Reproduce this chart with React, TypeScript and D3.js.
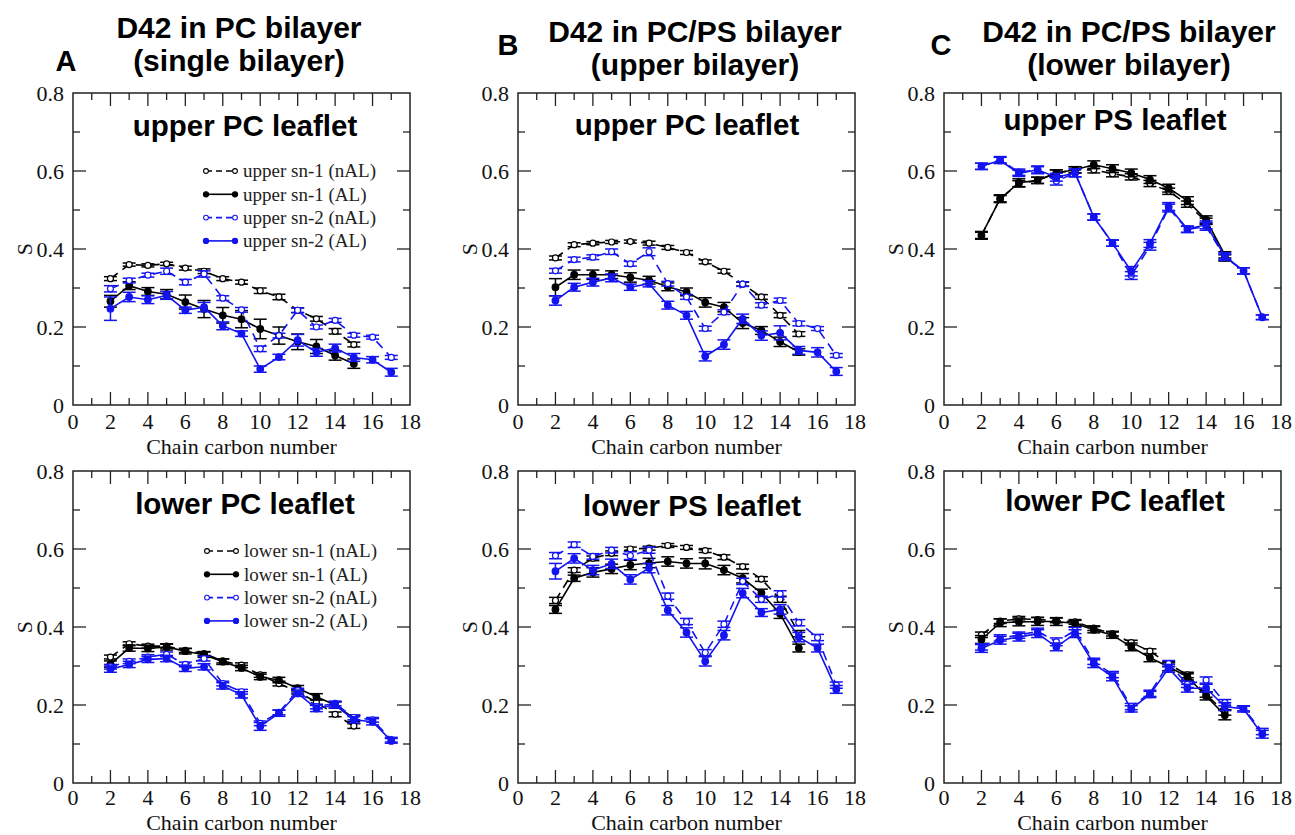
import React from 'react';
import * as d3 from 'd3';

// ---------- data ----------
const CARBON_SN1 = [2, 3, 4, 5, 6, 7, 8, 9, 10, 11, 12, 13, 14, 15];
const CARBON_SN2 = [2, 3, 4, 5, 6, 7, 8, 9, 10, 11, 12, 13, 14, 15, 16, 17];
const X_TICKS = [0, 2, 4, 6, 8, 10, 12, 14, 16, 18];
const X_MINOR = [1, 3, 5, 7, 9, 11, 13, 15, 17];
const Y_TICKS = [0, 0.2, 0.4, 0.6, 0.8];
const Y_TICK_LABELS = ['0', '0.2', '0.4', '0.6', '0.8'];
const Y_MINOR = [0.1, 0.3, 0.5, 0.7];
const X_LABEL = 'Chain carbon number';
const Y_LABEL = 'S';

// Panel A, upper PC leaflet
const aUpSn1nAL = [0.324, 0.36, 0.358, 0.362, 0.351, 0.343, 0.324, 0.315, 0.293, 0.277, 0.243, 0.221, 0.189, 0.155];
const aUpSn1nALErr = [0.005, 0.004, 0.004, 0.004, 0.005, 0.006, 0.005, 0.005, 0.007, 0.007, 0.006, 0.006, 0.007, 0.006];
const aUpSn1AL = [0.266, 0.306, 0.291, 0.284, 0.264, 0.246, 0.23, 0.22, 0.195, 0.178, 0.162, 0.15, 0.127, 0.106];
const aUpSn1ALErr = [0.015, 0.01, 0.01, 0.012, 0.018, 0.022, 0.02, 0.022, 0.025, 0.022, 0.02, 0.018, 0.012, 0.012];
const aUpSn2nAL = [0.298, 0.319, 0.333, 0.343, 0.315, 0.336, 0.274, 0.244, 0.144, 0.178, 0.243, 0.2, 0.217, 0.179, 0.174, 0.122];
const aUpSn2nALErr = [0.008, 0.006, 0.005, 0.008, 0.007, 0.008, 0.006, 0.006, 0.007, 0.006, 0.006, 0.005, 0.005, 0.005, 0.005, 0.005];
const aUpSn2AL = [0.247, 0.277, 0.27, 0.281, 0.243, 0.251, 0.203, 0.183, 0.092, 0.123, 0.166, 0.135, 0.146, 0.122, 0.116, 0.084];
const aUpSn2ALErr = [0.03, 0.012, 0.01, 0.01, 0.008, 0.012, 0.01, 0.007, 0.008, 0.007, 0.015, 0.01, 0.01, 0.01, 0.008, 0.01];

// Panel A, lower PC leaflet
const aLoSn1nAL = [0.323, 0.357, 0.351, 0.351, 0.34, 0.332, 0.313, 0.302, 0.277, 0.255, 0.234, 0.207, 0.176, 0.146];
const aLoSn1nALErr = [0.005, 0.005, 0.005, 0.005, 0.005, 0.005, 0.005, 0.006, 0.006, 0.006, 0.006, 0.006, 0.006, 0.006];
const aLoSn1AL = [0.305, 0.346, 0.345, 0.349, 0.338, 0.329, 0.311, 0.295, 0.272, 0.264, 0.243, 0.221, 0.2, 0.166];
const aLoSn1ALErr = [0.008, 0.008, 0.008, 0.008, 0.007, 0.007, 0.007, 0.007, 0.007, 0.007, 0.007, 0.008, 0.008, 0.008];
const aLoSn2nAL = [0.298, 0.312, 0.323, 0.33, 0.304, 0.319, 0.255, 0.234, 0.153, 0.181, 0.237, 0.196, 0.204, 0.168, 0.162, 0.111];
const aLoSn2nALErr = [0.006, 0.006, 0.006, 0.006, 0.006, 0.006, 0.006, 0.006, 0.006, 0.006, 0.006, 0.006, 0.006, 0.006, 0.006, 0.006];
const aLoSn2AL = [0.292, 0.304, 0.317, 0.319, 0.294, 0.298, 0.249, 0.226, 0.145, 0.179, 0.23, 0.191, 0.2, 0.162, 0.157, 0.108];
const aLoSn2ALErr = [0.008, 0.008, 0.008, 0.008, 0.008, 0.008, 0.008, 0.008, 0.01, 0.008, 0.008, 0.008, 0.008, 0.008, 0.008, 0.006];

// Panel B, upper PC leaflet
const bUpSn1nAL = [0.377, 0.411, 0.415, 0.418, 0.419, 0.415, 0.404, 0.391, 0.367, 0.343, 0.31, 0.277, 0.23, 0.182];
const bUpSn1nALErr = [0.005, 0.005, 0.004, 0.004, 0.004, 0.005, 0.005, 0.005, 0.005, 0.005, 0.005, 0.006, 0.006, 0.006];
const bUpSn1AL = [0.302, 0.334, 0.334, 0.334, 0.327, 0.32, 0.303, 0.29, 0.263, 0.251, 0.21, 0.191, 0.162, 0.136];
const bUpSn1ALErr = [0.022, 0.012, 0.012, 0.01, 0.012, 0.01, 0.01, 0.01, 0.012, 0.012, 0.014, 0.01, 0.012, 0.008];
const bUpSn2nAL = [0.344, 0.373, 0.379, 0.393, 0.362, 0.393, 0.311, 0.277, 0.196, 0.238, 0.31, 0.256, 0.268, 0.209, 0.196, 0.127];
const bUpSn2nALErr = [0.006, 0.006, 0.006, 0.007, 0.006, 0.01, 0.006, 0.006, 0.006, 0.006, 0.006, 0.006, 0.006, 0.006, 0.005, 0.005];
const bUpSn2AL = [0.268, 0.302, 0.315, 0.326, 0.302, 0.311, 0.256, 0.23, 0.125, 0.155, 0.221, 0.178, 0.185, 0.14, 0.135, 0.086];
const bUpSn2ALErr = [0.012, 0.01, 0.01, 0.01, 0.008, 0.008, 0.01, 0.01, 0.012, 0.012, 0.012, 0.012, 0.018, 0.01, 0.012, 0.01];

// Panel B, lower PS leaflet
const bLoSn1nAL = [0.468, 0.546, 0.576, 0.589, 0.6, 0.602, 0.609, 0.604, 0.596, 0.579, 0.555, 0.523, 0.471, 0.383];
const bLoSn1nALErr = [0.008, 0.006, 0.006, 0.006, 0.005, 0.005, 0.005, 0.005, 0.005, 0.006, 0.006, 0.006, 0.008, 0.008];
const bLoSn1AL = [0.445, 0.525, 0.54, 0.549, 0.559, 0.564, 0.568, 0.563, 0.563, 0.546, 0.525, 0.487, 0.434, 0.346];
const bLoSn1ALErr = [0.01, 0.008, 0.012, 0.012, 0.012, 0.012, 0.012, 0.012, 0.014, 0.012, 0.012, 0.01, 0.012, 0.01];
const bLoSn2nAL = [0.583, 0.611, 0.581, 0.597, 0.583, 0.597, 0.479, 0.414, 0.334, 0.407, 0.517, 0.471, 0.485, 0.411, 0.373, 0.251];
const bLoSn2nALErr = [0.008, 0.007, 0.007, 0.007, 0.01, 0.008, 0.008, 0.008, 0.008, 0.008, 0.008, 0.008, 0.008, 0.008, 0.008, 0.008];
const bLoSn2AL = [0.543, 0.576, 0.546, 0.562, 0.522, 0.551, 0.443, 0.386, 0.312, 0.379, 0.487, 0.437, 0.445, 0.374, 0.346, 0.24];
const bLoSn2ALErr = [0.02, 0.012, 0.012, 0.012, 0.012, 0.012, 0.012, 0.012, 0.012, 0.012, 0.012, 0.01, 0.012, 0.012, 0.01, 0.01];

// Panel C, upper PS leaflet
const cUpSn1nAL = [0.435, 0.529, 0.567, 0.576, 0.595, 0.603, 0.603, 0.593, 0.585, 0.568, 0.548, 0.515, 0.471, 0.377];
const cUpSn1nALErr = [0.008, 0.008, 0.008, 0.008, 0.008, 0.008, 0.008, 0.008, 0.008, 0.008, 0.008, 0.008, 0.008, 0.008];
const cUpSn1AL = [0.435, 0.529, 0.57, 0.576, 0.595, 0.603, 0.616, 0.606, 0.595, 0.578, 0.556, 0.524, 0.475, 0.385];
const cUpSn1ALErr = [0.01, 0.01, 0.01, 0.008, 0.008, 0.008, 0.01, 0.01, 0.01, 0.01, 0.01, 0.01, 0.01, 0.008];
const cUpSn2nAL = [0.612, 0.629, 0.597, 0.603, 0.574, 0.595, 0.482, 0.415, 0.332, 0.407, 0.505, 0.45, 0.458, 0.379, 0.344, 0.225];
const cUpSn2nALErr = [0.008, 0.008, 0.008, 0.008, 0.01, 0.01, 0.008, 0.008, 0.01, 0.01, 0.01, 0.008, 0.01, 0.008, 0.008, 0.006];
const cUpSn2AL = [0.612, 0.627, 0.594, 0.603, 0.584, 0.595, 0.482, 0.415, 0.343, 0.414, 0.509, 0.451, 0.462, 0.382, 0.344, 0.225];
const cUpSn2ALErr = [0.008, 0.008, 0.008, 0.01, 0.01, 0.01, 0.008, 0.008, 0.012, 0.01, 0.01, 0.008, 0.01, 0.008, 0.008, 0.006];

// Panel C, lower PC leaflet
const cLoSn1nAL = [0.38, 0.415, 0.421, 0.419, 0.417, 0.413, 0.397, 0.383, 0.36, 0.338, 0.305, 0.277, 0.227, 0.181];
const cLoSn1nALErr = [0.007, 0.006, 0.006, 0.006, 0.006, 0.006, 0.006, 0.006, 0.006, 0.006, 0.006, 0.007, 0.007, 0.007];
const cLoSn1AL = [0.368, 0.411, 0.413, 0.414, 0.414, 0.409, 0.393, 0.379, 0.349, 0.321, 0.298, 0.272, 0.223, 0.174];
const cLoSn1ALErr = [0.01, 0.01, 0.01, 0.01, 0.01, 0.008, 0.008, 0.008, 0.01, 0.01, 0.01, 0.008, 0.01, 0.012];
const cLoSn2nAL = [0.349, 0.372, 0.379, 0.389, 0.362, 0.391, 0.312, 0.278, 0.196, 0.23, 0.306, 0.253, 0.264, 0.206, 0.191, 0.132];
const cLoSn2nALErr = [0.008, 0.008, 0.008, 0.008, 0.01, 0.008, 0.008, 0.008, 0.008, 0.008, 0.008, 0.008, 0.008, 0.008, 0.006, 0.008];
const cLoSn2AL = [0.345, 0.366, 0.374, 0.383, 0.349, 0.383, 0.306, 0.272, 0.19, 0.227, 0.294, 0.243, 0.243, 0.196, 0.19, 0.125];
const cLoSn2ALErr = [0.01, 0.01, 0.01, 0.01, 0.01, 0.01, 0.01, 0.01, 0.008, 0.008, 0.01, 0.01, 0.01, 0.01, 0.008, 0.01];

// ---------- styling / layout ----------
const BLACK = '#000000';
const BLUE = '#1414f0';
const SERIF = '"Liberation Serif", "DejaVu Serif", serif';
const SANS = '"Liberation Sans", Arial, sans-serif';

type Series = { x: number[]; y: number[]; err: number[]; color: string; dashed: boolean; filled: boolean; label: string };

function makeSeries(prefix: string, s1n: number[], s1nE: number[], s1a: number[], s1aE: number[], s2n: number[], s2nE: number[], s2a: number[], s2aE: number[]): Series[] {
  return [
    { x: CARBON_SN1, y: s1n, err: s1nE, color: BLACK, dashed: true, filled: false, label: `${prefix} sn-1 (nAL)` },
    { x: CARBON_SN1, y: s1a, err: s1aE, color: BLACK, dashed: false, filled: true, label: `${prefix} sn-1 (AL)` },
    { x: CARBON_SN2, y: s2n, err: s2nE, color: BLUE, dashed: true, filled: false, label: `${prefix} sn-2 (nAL)` },
    { x: CARBON_SN2, y: s2a, err: s2aE, color: BLUE, dashed: false, filled: true, label: `${prefix} sn-2 (AL)` },
  ];
}

type Panel = {
  left: number; right: number; top: number; bottom: number; tickDy: number; xLabelY: number;
  title: string; titleX: number; titleY: number;
  series: Series[]; legend: null | { x: number; y: number };
};

const TOP_ROW = { top: 93, bottom: 405, tickDy: 24, xLabelY: 454 };
const BOT_ROW = { top: 471, bottom: 783, tickDy: 22, xLabelY: 830 };
const COLS = [{ left: 73, right: 410 }, { left: 518, right: 855 }, { left: 944, right: 1281 }];

const panels: Panel[] = [
  { ...COLS[0], ...TOP_ROW, title: 'upper PC leaflet', titleX: 245, titleY: 136, legend: { x: 206, y: 171 },
    series: makeSeries('upper', aUpSn1nAL, aUpSn1nALErr, aUpSn1AL, aUpSn1ALErr, aUpSn2nAL, aUpSn2nALErr, aUpSn2AL, aUpSn2ALErr) },
  { ...COLS[1], ...TOP_ROW, title: 'upper PC leaflet', titleX: 687, titleY: 135, legend: null,
    series: makeSeries('upper', bUpSn1nAL, bUpSn1nALErr, bUpSn1AL, bUpSn1ALErr, bUpSn2nAL, bUpSn2nALErr, bUpSn2AL, bUpSn2ALErr) },
  { ...COLS[2], ...TOP_ROW, title: 'upper PS leaflet', titleX: 1115, titleY: 130, legend: null,
    series: makeSeries('upper', cUpSn1nAL, cUpSn1nALErr, cUpSn1AL, cUpSn1ALErr, cUpSn2nAL, cUpSn2nALErr, cUpSn2AL, cUpSn2ALErr) },
  { ...COLS[0], ...BOT_ROW, title: 'lower PC leaflet', titleX: 245, titleY: 514, legend: { x: 207, y: 551 },
    series: makeSeries('lower', aLoSn1nAL, aLoSn1nALErr, aLoSn1AL, aLoSn1ALErr, aLoSn2nAL, aLoSn2nALErr, aLoSn2AL, aLoSn2ALErr) },
  { ...COLS[1], ...BOT_ROW, title: 'lower PS leaflet', titleX: 692, titleY: 516, legend: null,
    series: makeSeries('lower', bLoSn1nAL, bLoSn1nALErr, bLoSn1AL, bLoSn1ALErr, bLoSn2nAL, bLoSn2nALErr, bLoSn2AL, bLoSn2ALErr) },
  { ...COLS[2], ...BOT_ROW, title: 'lower PC leaflet', titleX: 1115, titleY: 511, legend: null,
    series: makeSeries('lower', cLoSn1nAL, cLoSn1nALErr, cLoSn1AL, cLoSn1ALErr, cLoSn2nAL, cLoSn2nALErr, cLoSn2AL, cLoSn2ALErr) },
];

const headers = [
  { letter: 'A', lx: 66, ly: 71, line1: 'D42 in PC bilayer', line2: '(single bilayer)', cx: 239, y1: 38, y2: 71 },
  { letter: 'B', lx: 508, ly: 55, line1: 'D42 in PC/PS bilayer', line2: '(upper bilayer)', cx: 695, y1: 42, y2: 75 },
  { letter: 'C', lx: 941, ly: 55, line1: 'D42 in PC/PS bilayer', line2: '(lower bilayer)', cx: 1129, y1: 42, y2: 75 },
];

const MAJOR = 13;
const MINOR = 7;
const CAP = 6.5;

function PanelView({ p }: { p: Panel }) {
  const x = d3.scaleLinear().domain([0, 18]).range([p.left, p.right]);
  const y = d3.scaleLinear().domain([0, 0.8]).range([p.bottom, p.top]);
  const line = d3.line<[number, number]>().x(d => x(d[0])).y(d => y(d[1]));
  return (
    <g>
      <rect x={p.left} y={p.top} width={p.right - p.left} height={p.bottom - p.top} fill="none" stroke="#222" strokeWidth={1.5} />
      {X_TICKS.slice(1, -1).map(t => (
        <g key={'xt' + t}>
          <line x1={x(t)} x2={x(t)} y1={p.bottom} y2={p.bottom - MAJOR} stroke="#222" strokeWidth={1.3} />
          <line x1={x(t)} x2={x(t)} y1={p.top} y2={p.top + MAJOR} stroke="#222" strokeWidth={1.3} />
        </g>
      ))}
      {X_MINOR.map(t => (
        <g key={'xm' + t}>
          <line x1={x(t)} x2={x(t)} y1={p.bottom} y2={p.bottom - MINOR} stroke="#222" strokeWidth={1.3} />
          <line x1={x(t)} x2={x(t)} y1={p.top} y2={p.top + MINOR} stroke="#222" strokeWidth={1.3} />
        </g>
      ))}
      {Y_TICKS.slice(1, -1).map(t => (
        <g key={'yt' + t}>
          <line x1={p.left} x2={p.left + MAJOR} y1={y(t)} y2={y(t)} stroke="#222" strokeWidth={1.3} />
          <line x1={p.right} x2={p.right - MAJOR} y1={y(t)} y2={y(t)} stroke="#222" strokeWidth={1.3} />
        </g>
      ))}
      {Y_MINOR.map(t => (
        <g key={'ym' + t}>
          <line x1={p.left} x2={p.left + MINOR} y1={y(t)} y2={y(t)} stroke="#222" strokeWidth={1.3} />
          <line x1={p.right} x2={p.right - MINOR} y1={y(t)} y2={y(t)} stroke="#222" strokeWidth={1.3} />
        </g>
      ))}
      {X_TICKS.map(t => (
        <text key={'xl' + t} x={x(t)} y={p.bottom + p.tickDy} textAnchor="middle" fontFamily={SERIF} fontSize={22} fill="#111">{String(t)}</text>
      ))}
      {Y_TICKS.map((t, i) => (
        <text key={'yl' + t} x={p.left - 9} y={y(t)} dy="0.35em" textAnchor="end" fontFamily={SERIF} fontSize={22} fill="#111">{Y_TICK_LABELS[i]}</text>
      ))}
      <text x={(p.left + p.right) / 2} y={p.xLabelY} textAnchor="middle" fontFamily={SERIF} fontSize={22} fill="#111">{X_LABEL}</text>
      <text transform={`translate(${p.left - 49},${y(0.4)}) rotate(-90)`} textAnchor="middle" dy="0.35em" fontFamily={SERIF} fontSize={22} fill="#111">{Y_LABEL}</text>
      <text x={p.titleX} y={p.titleY} textAnchor="middle" fontFamily={SANS} fontWeight="bold" fontSize={29.5} fill="#000">{p.title}</text>
      {p.series.map((s, si) => {
        const pts: [number, number][] = s.x.map((c, i) => [c, s.y[i]]);
        return (
          <g key={'s' + si}>
            <path d={line(pts) || ''} fill="none" stroke={s.color} strokeWidth={1.6} strokeDasharray={s.dashed ? '9,6' : undefined} />
            {pts.map((d, i) => (
              <g key={'e' + i} stroke={s.color} strokeWidth={1.5}>
                <line x1={x(d[0])} x2={x(d[0])} y1={y(d[1] - s.err[i])} y2={y(d[1] + s.err[i])} />
                <line x1={x(d[0]) - CAP} x2={x(d[0]) + CAP} y1={y(d[1] - s.err[i])} y2={y(d[1] - s.err[i])} />
                <line x1={x(d[0]) - CAP} x2={x(d[0]) + CAP} y1={y(d[1] + s.err[i])} y2={y(d[1] + s.err[i])} />
              </g>
            ))}
            {pts.map((d, i) => (
              <circle key={'m' + i} cx={x(d[0])} cy={y(d[1])} r={s.filled ? 3.3 : 3} fill={s.filled ? s.color : '#fff'} stroke={s.color} strokeWidth={1.2} />
            ))}
          </g>
        );
      })}
      {p.legend && p.series.map((s, i) => {
        const ly = p.legend!.y + i * 23.3;
        const lx = p.legend!.x;
        return (
          <g key={'lg' + i}>
            <line x1={lx} x2={lx + 29} y1={ly} y2={ly} stroke={s.color} strokeWidth={1.6} strokeDasharray={s.dashed ? '6,4' : undefined} />
            <circle cx={lx} cy={ly} r={s.filled ? 2.6 : 2.4} fill={s.filled ? s.color : '#fff'} stroke={s.color} strokeWidth={1.1} />
            <circle cx={lx + 29} cy={ly} r={s.filled ? 2.6 : 2.4} fill={s.filled ? s.color : '#fff'} stroke={s.color} strokeWidth={1.1} />
            <text x={lx + 37} y={ly} dy="0.33em" fontFamily={SERIF} fontSize={19} fill="#222">{s.label}</text>
          </g>
        );
      })}
    </g>
  );
}

export default function App() {
  return (
    <svg width={1295} height={835} style={{ position: 'absolute', left: 0, top: 0, background: '#fff' }}>
      <rect x={0} y={0} width={1295} height={835} fill="#fff" />
      {headers.map(h => (
        <g key={h.letter}>
          <text x={h.lx} y={h.ly} textAnchor="middle" fontFamily={SANS} fontWeight="bold" fontSize={29} fill="#000">{h.letter}</text>
          <text x={h.cx} y={h.y1} textAnchor="middle" fontFamily={SANS} fontWeight="bold" fontSize={30} fill="#000">{h.line1}</text>
          <text x={h.cx} y={h.y2} textAnchor="middle" fontFamily={SANS} fontWeight="bold" fontSize={30} fill="#000">{h.line2}</text>
        </g>
      ))}
      {panels.map((p, i) => <PanelView key={i} p={p} />)}
    </svg>
  );
}
